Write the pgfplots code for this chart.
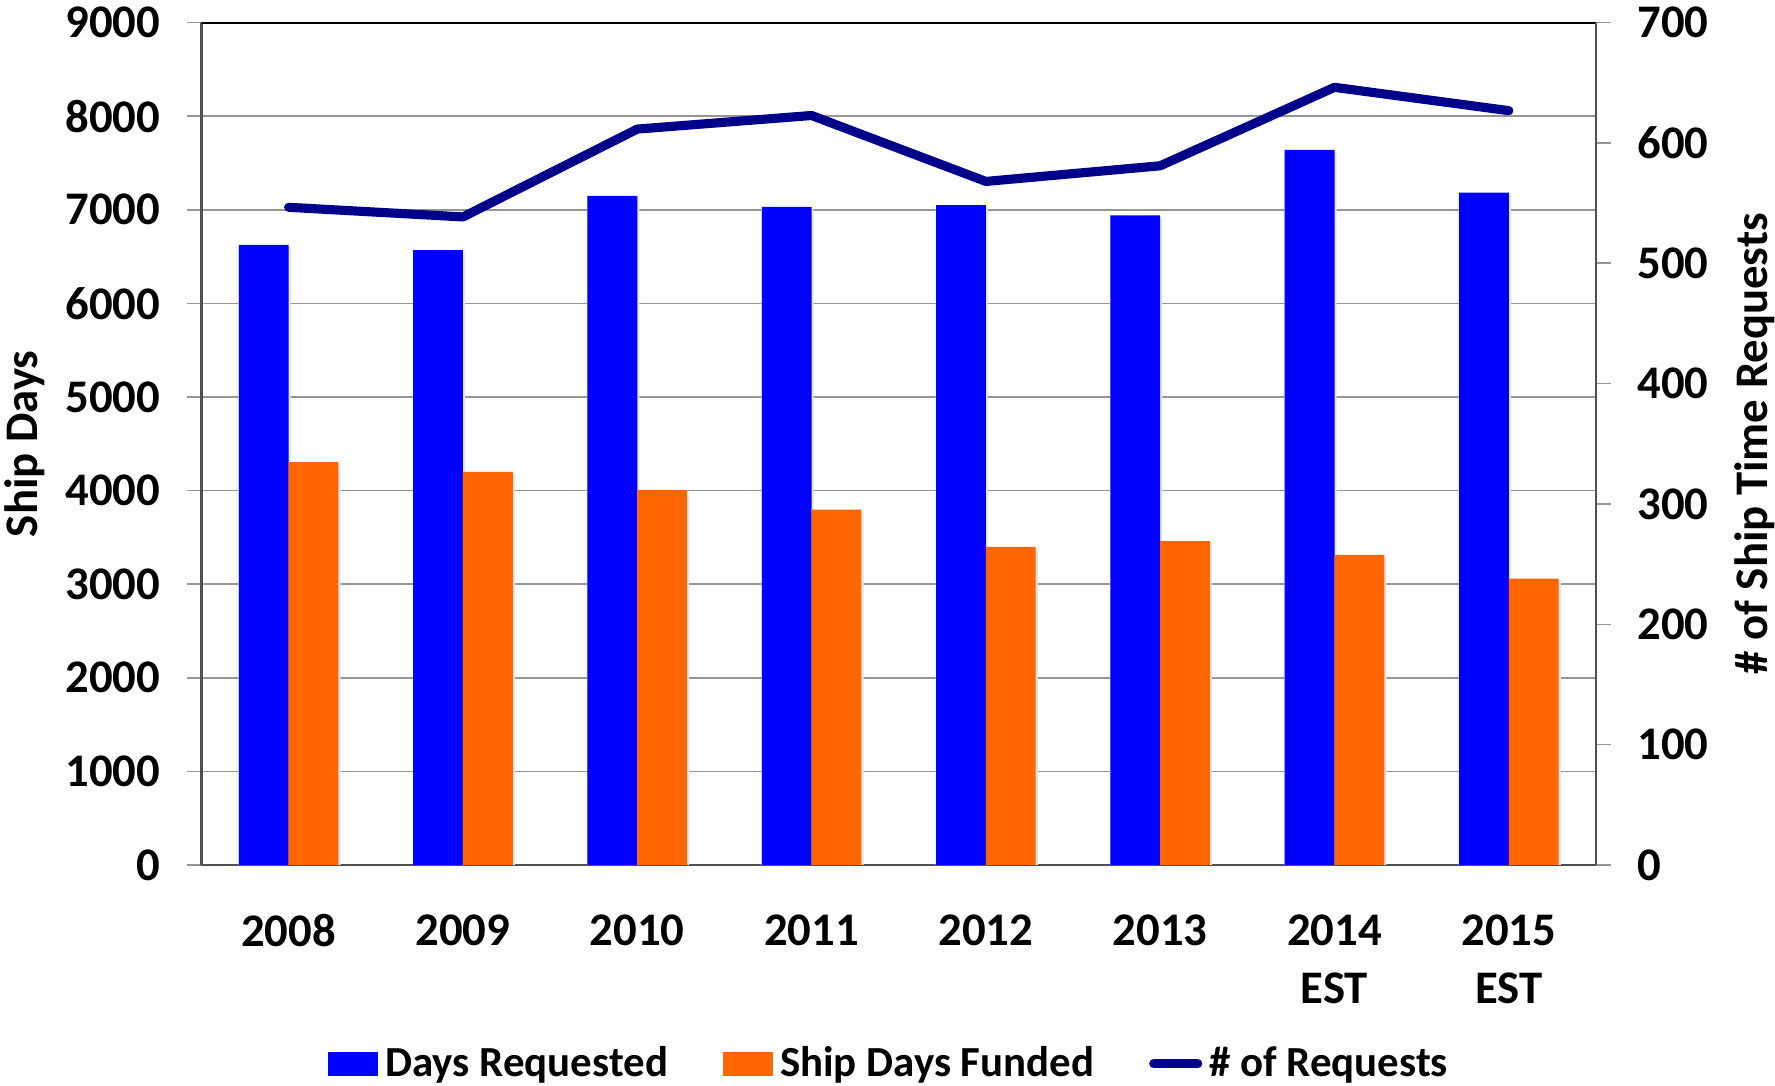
\documentclass[border=0pt]{standalone}
\usepackage{pgfplots}
\pgfplotsset{compat=1.18}
\usepackage{fontspec}
\setmainfont{Carlito}
\definecolor{barblue}{RGB}{0,0,255}
\definecolor{barorange}{RGB}{255,102,0}
\definecolor{navy}{RGB}{0,0,139}
\definecolor{axgray}{RGB}{80,80,80}
\definecolor{gridgray}{RGB}{150,150,150}
\begin{document}
\begin{tikzpicture}
\pgfplotsset{
  every axis/.append style={
    scale only axis, width=139.45mm, height=84.24mm,
    xmin=-0.5, xmax=7.5,
    tick align=outside,
    major tick length=1.5mm,
    /pgf/number format/assume math mode=true,
    /pgf/number format/1000 sep={},
    tick label style={font=\fontsize{13.3}{16.6}\selectfont\bfseries},
    label style={font=\fontsize{13.3}{16.6}\selectfont\bfseries},
  }
}
\begin{axis}[
  at={(0,0)}, anchor=south west,
  ymin=0, ymax=9000,
  ytick={0,1000,...,9000},
  axis x line*=bottom, axis y line*=left,
  axis line style={draw=axgray, line width=0.6pt},
  ymajorgrids, major grid style={draw=gridgray, line width=0.45pt},
  ytick style={draw=gridgray, line width=0.45pt},
  xtick={0,...,7},
  xticklabels={2008,2009,2010,2011,2012,2013,{2014\\EST},{2015\\EST}},
  xticklabel style={align=center, anchor=north, yshift=-2.2mm},
  major x tick style={draw=none},
  extra x ticks={-0.5,0.5,...,7.5},
  extra x tick labels={},
  extra x tick style={tick style={draw=gridgray, line width=0.45pt}, grid=none},
  yticklabel style={anchor=east, xshift=-1.4mm},
  ylabel={Ship Days},
  ylabel style={at={(rel axis cs:-0.1266,0.5)}, anchor=center, rotate=0},
  legend style={at={(0.495,-0.236)}, anchor=center, draw=none, fill=none,
    legend columns=3, font=\fontsize{12.2}{15}\selectfont\bfseries,
    /tikz/every even column/.append style={column sep=4.8mm},
    inner sep=0pt, legend cell align=left},
  legend image code/.code={\fill[#1] (0mm,-1.2mm) rectangle (5.0mm,1.2mm);},
]
% shadows
\addplot[ybar, bar width=0.30, bar shift=-0.138, fill=black!10, draw=none, forget plot]
  coordinates {(0,6600) (1,6545) (2,7125) (3,7005) (4,7025) (5,6915) (6,7615) (7,7160)};
\addplot[ybar, bar width=0.30, bar shift=0.148, fill=black!10, draw=none, forget plot]
  coordinates {(0,4280) (1,4175) (2,3980) (3,3775) (4,3375) (5,3435) (6,3290) (7,3035)};
\addplot[ybar, bar width=0.2857, bar shift=-0.1429, fill=barblue, draw=none]
  coordinates {(0,6624) (1,6570) (2,7150) (3,7030) (4,7050) (5,6940) (6,7639) (7,7183)};
\addlegendentry{Days Requested}
\addplot[ybar, bar width=0.2857, bar shift=0.1429, fill=barorange, draw=none]
  coordinates {(0,4305) (1,4199) (2,4004) (3,3798) (4,3399) (5,3460) (6,3314) (7,3060)};
\addlegendentry{Ship Days Funded}
\addlegendimage{legend image code/.code={\draw[navy, line width=2.6pt, line cap=round] (0.3mm,0) -- (4.7mm,0);}}
\addlegendentry{\# of Requests}
\draw[black, line width=0.6pt] (rel axis cs:0,1) -- (rel axis cs:1,1);
\end{axis}
\begin{axis}[
  at={(0,0)}, anchor=south west,
  ymin=0, ymax=700,
  ytick={0,100,...,700},
  axis x line=none, axis y line*=right,
  axis line style={draw=axgray, line width=0.6pt},
  ytick style={draw=gridgray, line width=0.45pt},
  yticklabel style={anchor=west, xshift=1.4mm},
  ylabel={\# of Ship Time Requests},
  ylabel style={at={(rel axis cs:1.114,0.5)}, anchor=center, rotate=0},
]
\addplot[navy, line width=2.6pt, line cap=round, line join=round, mark=none]
  coordinates {(0,546.5) (1,538.5) (2,611.5) (3,622.8) (4,568) (5,581) (6,646.2) (7,626.8)};
\end{axis}
\pgfresetboundingbox
\path[use as bounding box] (-20.15mm,-22.1mm) rectangle (157.35mm,86.5mm);
\end{tikzpicture}
\end{document}
